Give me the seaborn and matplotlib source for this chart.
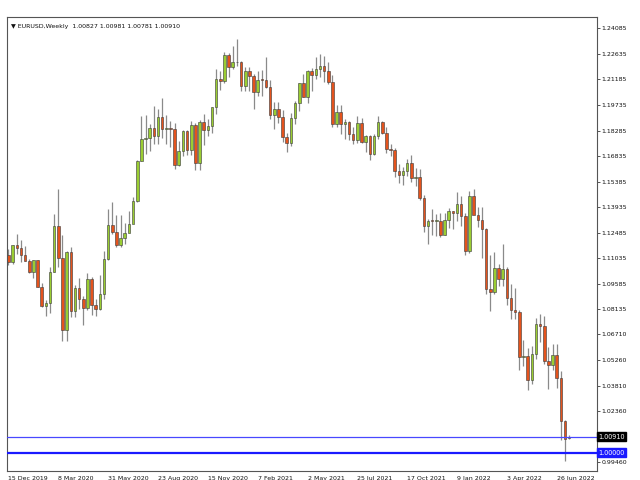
import numpy as np
import pandas as pd
import matplotlib
matplotlib.use("Agg")
import matplotlib.pyplot as plt
import seaborn as sns

# EURUSD weekly bars, 15 Dec 2019 .. 17 Jul 2022
week_start = "2019-12-15"
opens = [1.1122, 1.1080, 1.1176, 1.1163, 1.1120, 1.1090, 1.1026, 1.1094, 1.0943, 1.0830,
         1.0847, 1.1025, 1.1284, 1.1106, 1.0696, 1.1140, 1.0802, 1.0935, 1.0874, 1.0822,
         1.0983, 1.0840, 1.0818, 1.0900, 1.1100, 1.1290, 1.1255, 1.1180, 1.1220, 1.1247,
         1.1300, 1.1428, 1.1656, 1.1778, 1.1787, 1.1842, 1.1795, 1.1904, 1.1838, 1.1845,
         1.1838, 1.1632, 1.1715, 1.1827, 1.1717, 1.1860, 1.1646, 1.1875, 1.1834, 1.1856,
         1.1964, 1.2122, 1.2110, 1.2255, 1.2187, 1.2216, 1.2220, 1.2079, 1.2169, 1.2136,
         1.2045, 1.2118, 1.2117, 1.2074, 1.1915, 1.1952, 1.1905, 1.1793, 1.1760, 1.1899,
         1.1982, 1.2097, 1.2020, 1.2164, 1.2142, 1.2180, 1.2193, 1.2168, 1.2106, 1.1864,
         1.1935, 1.1865, 1.1875, 1.1808, 1.1772, 1.1870, 1.1762, 1.1796, 1.1696, 1.1795,
         1.1879, 1.1813, 1.1726, 1.1720, 1.1596, 1.1574, 1.1600, 1.1644, 1.1560, 1.1567,
         1.1445, 1.1288, 1.1317, 1.1315, 1.1316, 1.1238, 1.1320, 1.1370, 1.1360, 1.1411,
         1.1343, 1.1145, 1.1454, 1.1350, 1.1322, 1.1270, 1.0930, 1.0910, 1.1050, 1.0985,
         1.1045, 1.0877, 1.0810, 1.0797, 1.0545, 1.0550, 1.0410, 1.0560, 1.0730, 1.0718,
         1.0520, 1.0495, 1.0555, 1.0425, 1.0180, 1.00827]
highs = [1.1154, 1.1180, 1.1239, 1.1205, 1.1173, 1.1100, 1.1096, 1.1095, 1.0963, 1.0866,
         1.1053, 1.1355, 1.1496, 1.1237, 1.1147, 1.1168, 1.0953, 1.0990, 1.0888, 1.1019,
         1.0999, 1.0875, 1.1008, 1.1147, 1.1384, 1.1422, 1.1349, 1.1349, 1.1303, 1.1371,
         1.1452, 1.1659, 1.1909, 1.1916, 1.1866, 1.1966, 1.1948, 1.2011, 1.1917, 1.1882,
         1.1872, 1.1770, 1.1833, 1.1830, 1.1881, 1.1870, 1.1891, 1.1920, 1.1893, 1.1963,
         1.2177, 1.2167, 1.2273, 1.2268, 1.2310, 1.2349, 1.2223, 1.2189, 1.2189, 1.2150,
         1.2169, 1.2170, 1.2243, 1.2113, 1.1990, 1.1990, 1.1945, 1.1815, 1.1927, 1.1994,
         1.2099, 1.2150, 1.2172, 1.2181, 1.2245, 1.2265, 1.2254, 1.2218, 1.2145, 1.1975,
         1.1975, 1.1894, 1.1880, 1.1851, 1.1909, 1.1900, 1.1805, 1.1804, 1.1807, 1.1909,
         1.1884, 1.1846, 1.1752, 1.1728, 1.1640, 1.1624, 1.1669, 1.1692, 1.1616, 1.1610,
         1.1464, 1.1324, 1.1383, 1.1355, 1.1361, 1.1360, 1.1386, 1.1371, 1.1482, 1.1456,
         1.1360, 1.1483, 1.1495, 1.1395, 1.1396, 1.1276, 1.1121, 1.1137, 1.1070, 1.1185,
         1.1053, 1.0958, 1.0936, 1.0807, 1.0642, 1.0593, 1.0608, 1.0765, 1.0787, 1.0773,
         1.0601, 1.0614, 1.0615, 1.0462, 1.0186, 1.00981]
lows = [1.1066, 1.1069, 1.1125, 1.1085, 1.1086, 1.1019, 1.0992, 1.0940, 1.0827, 1.0778,
        1.0795, 1.1025, 1.1055, 1.0636, 1.0636, 1.0768, 1.0770, 1.0813, 1.0727, 1.0812,
        1.0782, 1.0775, 1.0808, 1.0870, 1.1096, 1.1240, 1.1168, 1.1169, 1.1185, 1.1253,
        1.1371, 1.1424, 1.1653, 1.1696, 1.1710, 1.1753, 1.1754, 1.1788, 1.1752, 1.1737,
        1.1612, 1.1626, 1.1685, 1.1688, 1.1690, 1.1603, 1.1602, 1.1746, 1.1800, 1.1814,
        1.1923, 1.2059, 1.2100, 1.2130, 1.2175, 1.2192, 1.2054, 1.2053, 1.2055, 1.1952,
        1.2022, 1.2024, 1.2067, 1.1894, 1.1836, 1.1873, 1.1762, 1.1704, 1.1740, 1.1868,
        1.1940, 1.2017, 1.1986, 1.2052, 1.2121, 1.2134, 1.2104, 1.2093, 1.1846, 1.1847,
        1.1807, 1.1781, 1.1772, 1.1752, 1.1760, 1.1760, 1.1705, 1.1663, 1.1690, 1.1780,
        1.1808, 1.1700, 1.1685, 1.1563, 1.1529, 1.1522, 1.1571, 1.1535, 1.1513, 1.1432,
        1.1250, 1.1186, 1.1236, 1.1227, 1.1222, 1.1237, 1.1273, 1.1272, 1.1314, 1.1285,
        1.1121, 1.1131, 1.1374, 1.1281, 1.1106, 1.0899, 1.0806, 1.0900, 1.0945, 1.0944,
        1.0837, 1.0757, 1.0758, 1.0470, 1.0490, 1.0354, 1.0388, 1.0533, 1.0627, 1.0506,
        1.0359, 1.0470, 1.0366, 1.0072, 0.9952, 1.00781]
closes = [1.1080, 1.1176, 1.1163, 1.1120, 1.1090, 1.1026, 1.1094, 1.0943, 1.0830, 1.0847,
          1.1025, 1.1284, 1.1106, 1.0696, 1.1140, 1.0802, 1.0935, 1.0874, 1.0822, 1.0983,
          1.0840, 1.0818, 1.0900, 1.1100, 1.1290, 1.1255, 1.1180, 1.1220, 1.1247, 1.1300,
          1.1428, 1.1656, 1.1778, 1.1787, 1.1842, 1.1795, 1.1904, 1.1838, 1.1845, 1.1838,
          1.1632, 1.1715, 1.1827, 1.1717, 1.1860, 1.1646, 1.1875, 1.1834, 1.1856, 1.1964,
          1.2122, 1.2110, 1.2255, 1.2187, 1.2216, 1.2220, 1.2079, 1.2169, 1.2136, 1.2045,
          1.2118, 1.2117, 1.2074, 1.1915, 1.1952, 1.1905, 1.1793, 1.1760, 1.1899, 1.1982,
          1.2097, 1.2020, 1.2164, 1.2142, 1.2180, 1.2193, 1.2168, 1.2106, 1.1864, 1.1935,
          1.1865, 1.1875, 1.1808, 1.1772, 1.1870, 1.1762, 1.1796, 1.1696, 1.1795, 1.1879,
          1.1813, 1.1726, 1.1720, 1.1596, 1.1574, 1.1600, 1.1644, 1.1560, 1.1567, 1.1445,
          1.1288, 1.1317, 1.1315, 1.1316, 1.1238, 1.1320, 1.1370, 1.1360, 1.1411, 1.1343,
          1.1145, 1.1454, 1.1350, 1.1322, 1.1270, 1.0930, 1.0910, 1.1050, 1.0985, 1.1045,
          1.0877, 1.0810, 1.0797, 1.0545, 1.0550, 1.0410, 1.0560, 1.0730, 1.0718, 1.0520,
          1.0495, 1.0555, 1.0425, 1.0180, 1.0080, 1.00910]

price_ticks = [1.24085, 1.22635, 1.21185, 1.19735, 1.18285, 1.16835, 1.15385, 1.13935,
               1.12485, 1.11035, 1.09585, 1.08135, 1.06710, 1.05260, 1.03810, 1.02360, 0.99460]
date_labels = ["15 Dec 2019", "8 Mar 2020", "31 May 2020", "23 Aug 2020", "15 Nov 2020",
               "7 Feb 2021", "2 May 2021", "25 Jul 2021", "17 Oct 2021", "9 Jan 2022",
               "3 Apr 2022", "26 Jun 2022"]
bid = 1.00910
level = 1.00000

df = pd.DataFrame({"open": opens, "high": highs, "low": lows, "close": closes})
df["date"] = pd.date_range(week_start, periods=len(df), freq="7D")
df["i"] = np.arange(len(df))
df["up"] = df["close"] >= df["open"]

sns.set_theme(style="white")
plt.rcParams["font.family"] = ["DejaVu Sans"]
fs = 4.5

fig = plt.figure(figsize=(6.4, 4.8), dpi=100)
ax = fig.add_axes([7 / 640, 9 / 480, 590 / 640, 454 / 480])

# wicks
ax.vlines(df["i"], df["low"], df["high"], color="#8a8a8a", lw=0.9, zorder=1)
# bodies
body_lo = df[["open", "close"]].min(axis=1)
body_h = (df["close"] - df["open"]).abs().clip(lower=0.0003)
colors = np.where(df["up"], "#9acd32", "#e4531d")
ax.bar(df["i"], body_h, bottom=body_lo, width=0.62, color=colors,
       edgecolor="#3a3a3a", linewidth=0.4, zorder=2)

ax.axhline(bid, color="#4848ff", lw=0.9, zorder=3)
ax.axhline(level, color="#1a1aff", lw=1.6, zorder=3)

ax.set_xlim(-0.36, 141.7)
ax.set_ylim(0.98960, 1.24728)

ax.yaxis.tick_right()
ax.set_yticks(price_ticks)
ax.set_yticklabels([f"{p:.5f}" for p in price_ticks])
ax.set_xticks(np.arange(0, 12 * len(date_labels), 12))
ax.set_xticklabels(date_labels, ha="left")
ax.tick_params(axis="both", labelsize=fs, colors="#111111", length=2.2, width=0.5)
ax.tick_params(axis="y", pad=1.2)
ax.tick_params(axis="x", pad=1.5)
for s in ax.spines.values():
    s.set_color("#555555")
    s.set_linewidth(0.8)

# price boxes
ax.text(1.002, bid, f"{bid:.5f}", transform=ax.get_yaxis_transform(), fontsize=fs + 0.2,
        color="white", va="center", ha="left",
        bbox=dict(boxstyle="square,pad=0.2", fc="black", ec="black"))
ax.text(1.002, level, f"{level:.5f}", transform=ax.get_yaxis_transform(), fontsize=fs + 0.2,
        color="white", va="center", ha="left",
        bbox=dict(boxstyle="square,pad=0.2", fc="#1a1aff", ec="#1a1aff"))

ax.text(0.007, 0.985, "\u25bc EURUSD,Weekly  1.00827 1.00981 1.00781 1.00910",
        transform=ax.transAxes, fontsize=fs, color="#111111", va="top", ha="left")

fig.savefig("out.png", dpi=100)
